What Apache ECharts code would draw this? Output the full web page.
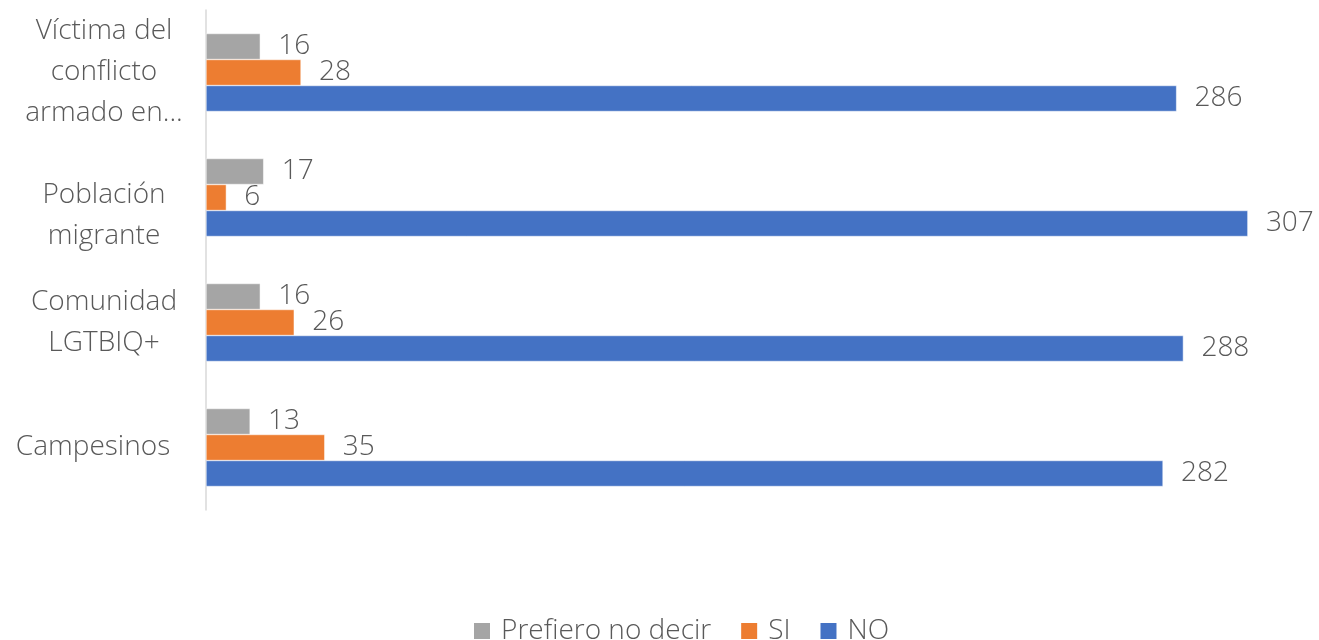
<!DOCTYPE html>
<html>
<head>
<meta charset="utf-8">
<script src="https://cdn.jsdelivr.net/npm/echarts@6/dist/echarts.min.js"></script>
<style>html,body{margin:0;padding:0;background:#fff;}#c{width:1319px;height:640px;}</style>
</head>
<body>
<div id="c"></div>
<script>
const categories = ['Víctima del\nconflicto\narmado en...', 'Población\nmigrante', 'Comunidad\nLGTBIQ+', 'Campesinos'];
const seriesNames = ['Prefiero no decir', 'SI', 'NO'];
const prefieroValues = [16, 17, 16, 13];
const siValues = [28, 6, 26, 35];
const noValues = [286, 307, 288, 282];
const colors = ['#A5A5A5', '#ED7D31', '#4472C4'];

const font = '"Open Sans", "Noto Sans", sans-serif';
const txt = '#595959';
const dataSets = [prefieroValues, siValues, noValues];

const chart = echarts.init(document.getElementById('c'));
chart.setOption({
  animation: false,
  color: colors,
  grid: { left: 206, right: 27, top: 10, bottom: 130 },
  xAxis: {
    type: 'value', min: 0, max: 320,
    show: false
  },
  yAxis: {
    type: 'category', inverse: true, data: categories,
    axisLine: { lineStyle: { color: '#D9D9D9', width: 1.5 } },
    axisTick: { show: false },
    axisLabel: {
      align: 'center', margin: 102, fontFamily: font, fontWeight: 300,
      fontSize: 28, lineHeight: 41, color: txt,
      formatter: function (v, i) {
        if (i === 1) {
          return v.split('\n').map(s => '{low|' + s + '}').join('\n');
        }
        if (i === 3) {
          return '{left|' + v + '}';
        }
        return v;
      },
      rich: {
        low: { fontFamily: font, fontWeight: 300, fontSize: 28, lineHeight: 41, color: txt, padding: [36, 0, 0, 0] },
        left: { fontFamily: font, fontWeight: 300, fontSize: 28, lineHeight: 41, color: txt, padding: [0, 22, 0, 0] }
      }
    }
  },
  legend: {
    bottom: -10, left: 467, itemWidth: 18, itemHeight: 18, itemGap: 28,
    icon: 'rect',
    textStyle: { fontFamily: font, fontWeight: 300, fontSize: 28, color: txt, padding: [0, 0, 0, 5] },
    data: seriesNames
  },
  series: seriesNames.map((n, i) => ({
    name: n, type: 'bar', data: dataSets[i], barWidth: 26, barGap: '0%',
    itemStyle: { borderColor: '#ffffff', borderWidth: 0.5 },
    label: {
      show: true, position: 'right', distance: 18,
      fontFamily: font, fontWeight: 300, fontSize: 28, color: txt
    }
  }))
});
</script>
</body>
</html>
